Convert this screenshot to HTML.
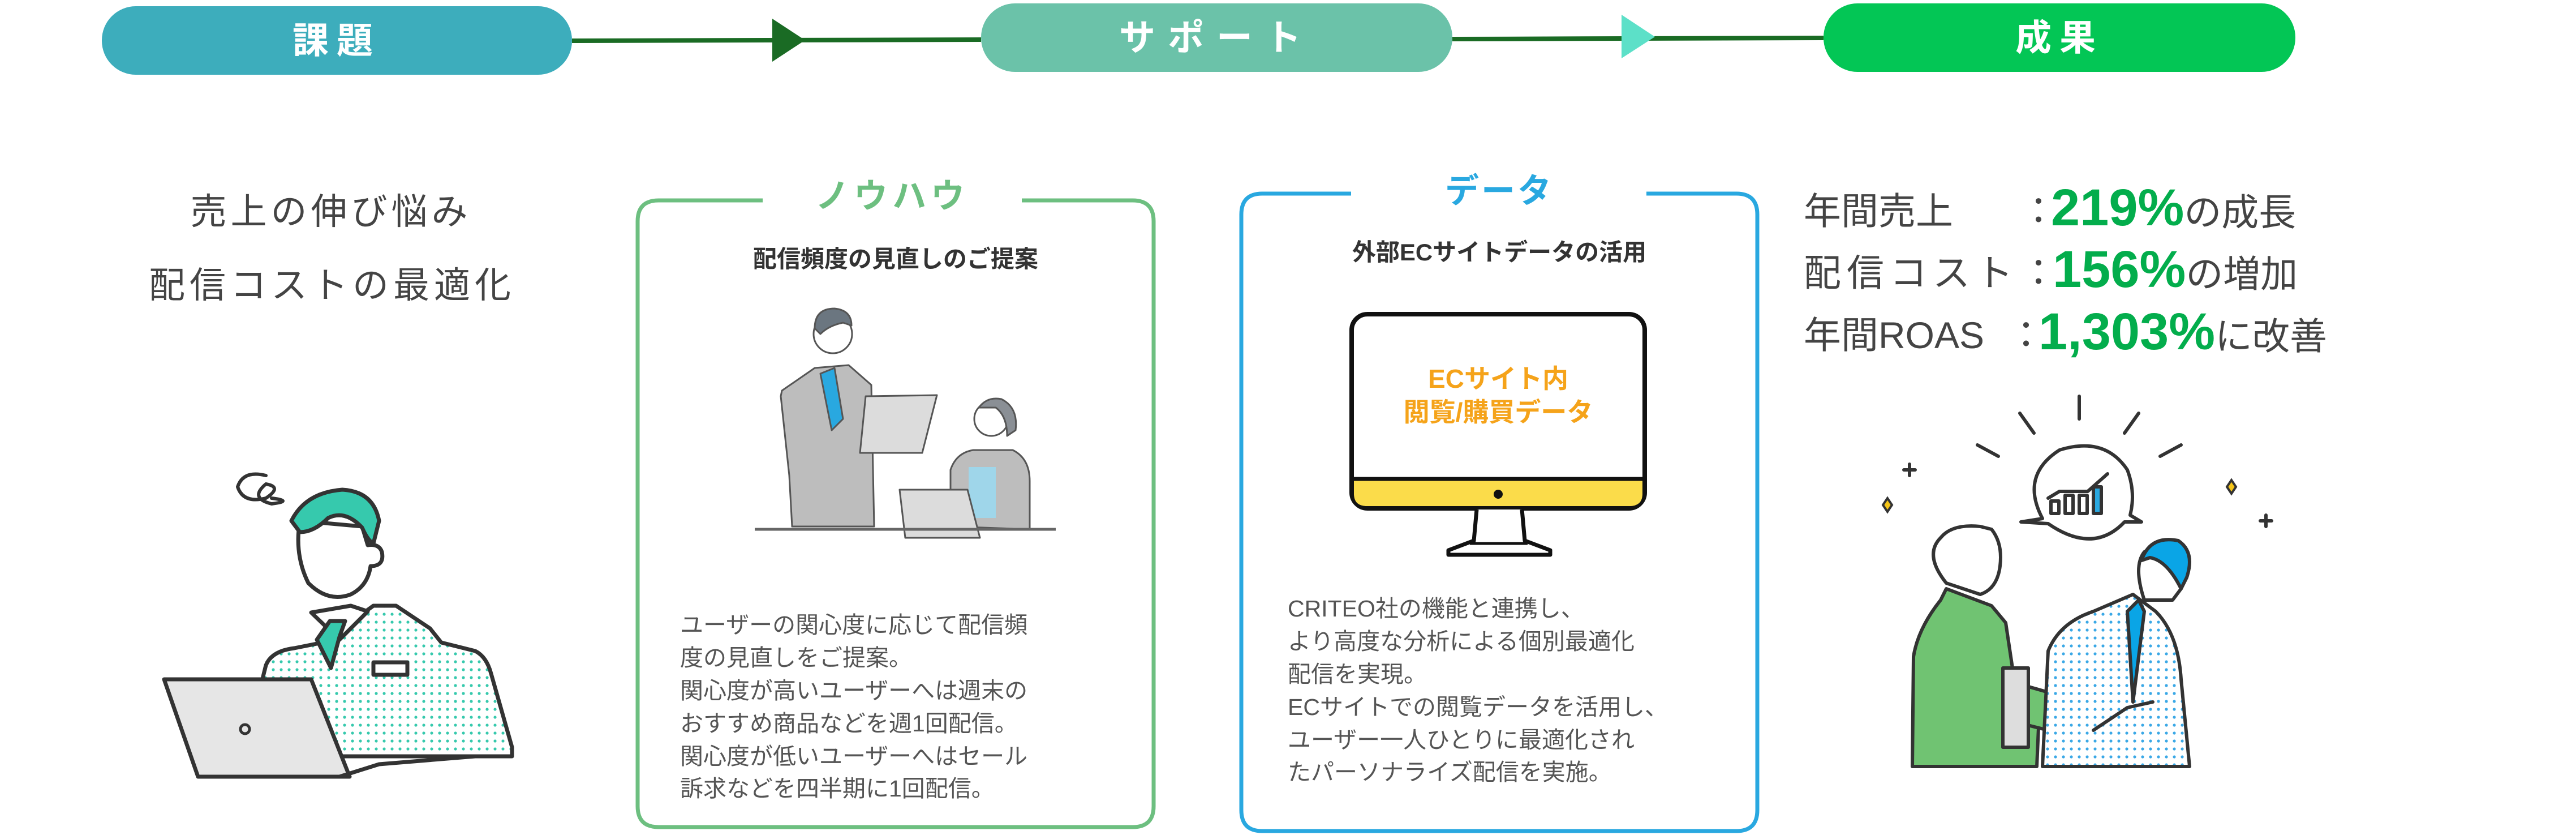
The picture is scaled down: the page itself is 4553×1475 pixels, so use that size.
<!DOCTYPE html>
<html><head><meta charset="utf-8"><style>
html,body{margin:0;padding:0;background:#fff;}
svg{display:block;}
text{font-family:"Liberation Sans","Noto Sans CJK JP",sans-serif;}
</style></head><body>
<svg width="4553" height="1475" viewBox="0 0 4553 1475" xmlns="http://www.w3.org/2000/svg">
<defs>
<pattern id="dotg" width="14" height="14" patternUnits="userSpaceOnUse"><rect width="14" height="14" fill="#fff"/><circle cx="7" cy="7" r="2.6" fill="#36c9ad"/></pattern>
<pattern id="dotb" width="14" height="14" patternUnits="userSpaceOnUse"><rect width="14" height="14" fill="#fff"/><circle cx="7" cy="7" r="2.6" fill="#3aa8e6"/></pattern>
</defs>

<line x1="1011" y1="72" x2="1734" y2="70" stroke="#1a6b24" stroke-width="8"/>
<line x1="2567" y1="69" x2="3223" y2="67" stroke="#1a6b24" stroke-width="8"/>
<polygon points="1365,33 1423,71 1365,109" fill="#1a6b24"/>
<polygon points="2866,26 2925,65 2866,103" fill="#5ce0c8"/>
<rect x="180" y="11" width="831" height="121" rx="60" fill="#3dadbc"/>
<rect x="1734" y="6" width="833" height="121" rx="60" fill="#6bc2a9"/>
<rect x="3223" y="6" width="834" height="121" rx="60" fill="#03c655"/>
<text x="595" y="94" font-size="64" font-weight="bold" fill="#fff" text-anchor="middle" letter-spacing="14">課題</text>
<text x="2150" y="89" font-size="64" font-weight="bold" fill="#fff" text-anchor="middle" letter-spacing="22">サポート</text>
<text x="3640" y="89" font-size="64" font-weight="bold" fill="#fff" text-anchor="middle" letter-spacing="14">成果</text>

<text x="585" y="396" font-size="64" fill="#444" text-anchor="middle" letter-spacing="7">売上の伸び悩み</text>
<text x="587" y="526" font-size="64" fill="#444" text-anchor="middle" letter-spacing="8">配信コストの最適化</text>

<g stroke="#333" stroke-width="7" stroke-linejoin="round" stroke-linecap="round">
<path d="M430,1336 L470,1175 Q480,1150 520,1145 L570,1135 L660,1070 L700,1070 L760,1110 L780,1135 L840,1150 Q860,1160 868,1190 L905,1320 L905,1336 Z" fill="url(#dotg)"/>
<path d="M550,1082 L600,1130 L650,1080 L620,1070 Z" fill="#fff"/>
<path d="M583,1097 L610,1097 L600,1125 L585,1180 L560,1130 Z" fill="#36c9ad"/>
<rect x="660" y="1170" width="60" height="22" fill="#fff"/>
<path d="M530,920 Q520,980 545,1030 Q580,1065 620,1050 Q650,1035 655,1000 Q680,1000 675,975 Q670,960 650,963 L640,930 Z" fill="#fff"/>
<path d="M515,920 Q540,870 605,865 Q660,868 670,920 L660,960 Q650,955 640,932 Q610,900 580,915 Q555,940 530,940 Z" fill="#36c9ad"/>
<path d="M290,1200 L550,1200 L618,1372 L350,1372 Z" fill="#e6e6e6"/>
<path d="M600,1372 L670,1350 L840,1336" fill="none"/>
<path d="M470,840 Q430,830 420,860 Q430,890 470,880 Q500,860 470,855 Q440,880 480,890 Q520,885 480,880" fill="none" stroke-width="6"/>
</g>
<circle cx="433" cy="1288" r="8" fill="none" stroke="#333" stroke-width="5"/>

<path d="M1348,354 L1164,354 Q1127,354 1127,391 L1127,1424 Q1127,1461 1164,1461 L2002,1461 Q2039,1461 2039,1424 L2039,391 Q2039,354 2002,354 L1806,354" fill="none" stroke="#6dbf80" stroke-width="7"/>
<text x="1577" y="367" font-size="60" font-weight="bold" fill="#6dbf80" text-anchor="middle" letter-spacing="8">ノウハウ</text>
<text x="1583" y="472" font-size="42" font-weight="bold" fill="#333" text-anchor="middle">配信頻度の見直しのご提案</text>
<g font-size="41" fill="#555">
<text x="1202" y="1118">ユーザーの関心度に応じて配信頻</text>
<text x="1202" y="1176">度の見直しをご提案。</text>
<text x="1202" y="1234">関心度が高いユーザーへは週末の</text>
<text x="1202" y="1292">おすすめ商品などを週1回配信。</text>
<text x="1202" y="1350">関心度が低いユーザーへはセール</text>
<text x="1202" y="1407">訴求などを四半期に1回配信。</text>
</g>
<g stroke="#555" stroke-width="3" stroke-linejoin="round">
<path d="M1382,690 L1440,650 L1500,645 L1540,680 L1545,930 L1400,930 L1395,840 L1380,700 Z" fill="#bdbdbd"/>
<path d="M1450,660 L1475,650 L1490,740 L1470,760 Z" fill="#29a8e0"/>
<circle cx="1472" cy="590" r="34" fill="#fff"/>
<path d="M1440,580 Q1440,545 1475,545 Q1505,548 1505,575 L1490,570 Q1465,575 1450,590 Z" fill="#6b7680"/>
<path d="M1530,700 L1656,698 L1630,800 L1520,800 Z" fill="#dcdcdc"/>
<path d="M1680,930 L1680,830 Q1690,800 1720,795 L1790,795 Q1820,810 1820,850 L1820,935 Z" fill="#bdbdbd"/>
<rect x="1712" y="825" width="48" height="90" fill="#9fd6ea" stroke="none"/>
<circle cx="1752" cy="740" r="30" fill="#fff"/>
<path d="M1730,720 Q1745,700 1770,705 Q1800,720 1795,760 L1780,770 Q1780,735 1760,720 Z" fill="#8a8f95"/>
<path d="M1590,865 L1710,865 L1732,950 L1600,950 Z" fill="#dcdcdc"/>
</g>
<line x1="1334" y1="935" x2="1866" y2="935" stroke="#666" stroke-width="5"/>

<path d="M2388,342 L2231,342 Q2194,342 2194,379 L2194,1431 Q2194,1468 2231,1468 L3069,1468 Q3106,1468 3106,1431 L3106,379 Q3106,342 3069,342 L2910,342" fill="none" stroke="#29a8e0" stroke-width="7"/>
<text x="2650" y="358" font-size="60" font-weight="bold" fill="#29a8e0" text-anchor="middle" letter-spacing="4">データ</text>
<text x="2650" y="460" font-size="42" font-weight="bold" fill="#333" text-anchor="middle">外部ECサイトデータの活用</text>
<rect x="2389" y="555" width="518" height="343" rx="28" fill="#fff" stroke="#111" stroke-width="8"/>
<path d="M2393,846 L2903,846 L2903,872 Q2903,894 2880,894 L2416,894 Q2393,894 2393,872 Z" fill="#fbdc4a"/>
<line x1="2389" y1="846" x2="2907" y2="846" stroke="#111" stroke-width="7"/>
<circle cx="2648" cy="873" r="8" fill="#111"/>
<path d="M2610,900 L2605,955 L2560,972 L2560,980 L2740,980 L2740,972 L2695,955 L2690,900" fill="#fff" stroke="#111" stroke-width="7" stroke-linejoin="round"/>
<line x1="2598" y1="960" x2="2700" y2="960" stroke="#111" stroke-width="5"/>
<text x="2648" y="685" font-size="46" font-weight="bold" fill="#f5a31a" text-anchor="middle">ECサイト内</text>
<text x="2648" y="744" font-size="46" font-weight="bold" fill="#f5a31a" text-anchor="middle">閲覧/購買データ</text>
<g font-size="41" fill="#555">
<text x="2276" y="1089">CRITEO社の機能と連携し、</text>
<text x="2276" y="1147">より高度な分析による個別最適化</text>
<text x="2276" y="1205">配信を実現。</text>
<text x="2276" y="1263">ECサイトでの閲覧データを活用し、</text>
<text x="2276" y="1321">ユーザー一人ひとりに最適化され</text>
<text x="2276" y="1378">たパーソナライズ配信を実施。</text>
</g>

<g font-size="66" fill="#444">
<text x="3188" y="396">年間売上</text>
<text x="3570" y="396">：</text>
<text x="3188" y="505" letter-spacing="10">配信コスト</text>
<text x="3570" y="505">：</text>
<text x="3188" y="615">年間ROAS</text>
<text x="3548" y="615">：</text>
</g>
<text x="3625" y="398" font-size="92" font-weight="bold" fill="#03ad4c">219%<tspan font-size="66" font-weight="normal" fill="#444">の成長</tspan></text>
<text x="3628" y="507" font-size="92" font-weight="bold" fill="#03ad4c">156%<tspan font-size="66" font-weight="normal" fill="#444">の増加</tspan></text>
<text x="3603" y="617" font-size="92" font-weight="bold" fill="#03ad4c">1,303%<tspan font-size="66" font-weight="normal" fill="#444">に改善</tspan></text>

<g stroke="#333" stroke-width="6" stroke-linecap="round" stroke-linejoin="round" fill="none">
<line x1="3675" y1="700" x2="3675" y2="740"/>
<line x1="3570" y1="730" x2="3595" y2="765"/>
<line x1="3780" y1="730" x2="3755" y2="765"/>
<line x1="3495" y1="786" x2="3532" y2="806"/>
<line x1="3855" y1="786" x2="3818" y2="806"/>
<path d="M3610,916 Q3570,840 3640,795 Q3720,770 3760,830 Q3775,870 3765,910 L3785,922 L3755,922 Q3700,980 3620,925 L3572,922 Z" fill="#fff"/>
<path d="M3620,880 L3640,868 L3690,868 L3725,837"/>
<rect x="3625" y="885" width="14" height="22"/><rect x="3650" y="875" width="14" height="32"/><rect x="3675" y="875" width="14" height="32"/>
<rect x="3700" y="860" width="14" height="47" fill="#29a8e0"/>
<path d="M3380,1354 L3382,1160 Q3390,1110 3430,1060 L3440,1040 L3520,1070 L3545,1100 L3560,1200 L3605,1240 L3600,1354 Z" fill="#70c372"/>
<path d="M3540,1200 L3610,1220 L3680,1240 L3700,1290 L3620,1290 L3540,1270 Z" fill="#70c372"/>
<rect x="3540" y="1180" width="45" height="140" fill="#ddd"/>
<path d="M3440,1030 Q3400,980 3430,950 Q3450,925 3500,930 L3520,935 Q3540,960 3535,1000 Q3530,1040 3500,1050 Z" fill="#fff"/>
<path d="M3610,1354 L3620,1150 Q3640,1100 3700,1080 L3770,1050 L3810,1080 Q3850,1120 3855,1200 L3870,1354 Z" fill="url(#dotb)"/>
<path d="M3700,1290 L3760,1250 L3805,1240" fill="none"/>
<path d="M3780,1060 L3760,1080 L3770,1240 L3790,1080 Z" fill="#0aa5e6"/>
<path d="M3790,1060 Q3770,1000 3790,975 Q3820,955 3850,970 Q3870,1000 3855,1040 L3840,1060 Z" fill="#fff"/>
<path d="M3785,990 Q3800,945 3850,955 Q3880,975 3865,1020 L3855,1040 Q3830,990 3800,985 Z" fill="#0aa5e6"/>
<path d="M3365,830 h20 M3375,820 v20 M3995,920 h20 M4005,910 v20"/>
</g>
<path d="M3328,892 l8,-12 l8,12 l-8,12 z M3936,860 l8,-12 l8,12 l-8,12 z" fill="#f5c518" stroke="#333" stroke-width="4"/>
</svg>
</body></html>
